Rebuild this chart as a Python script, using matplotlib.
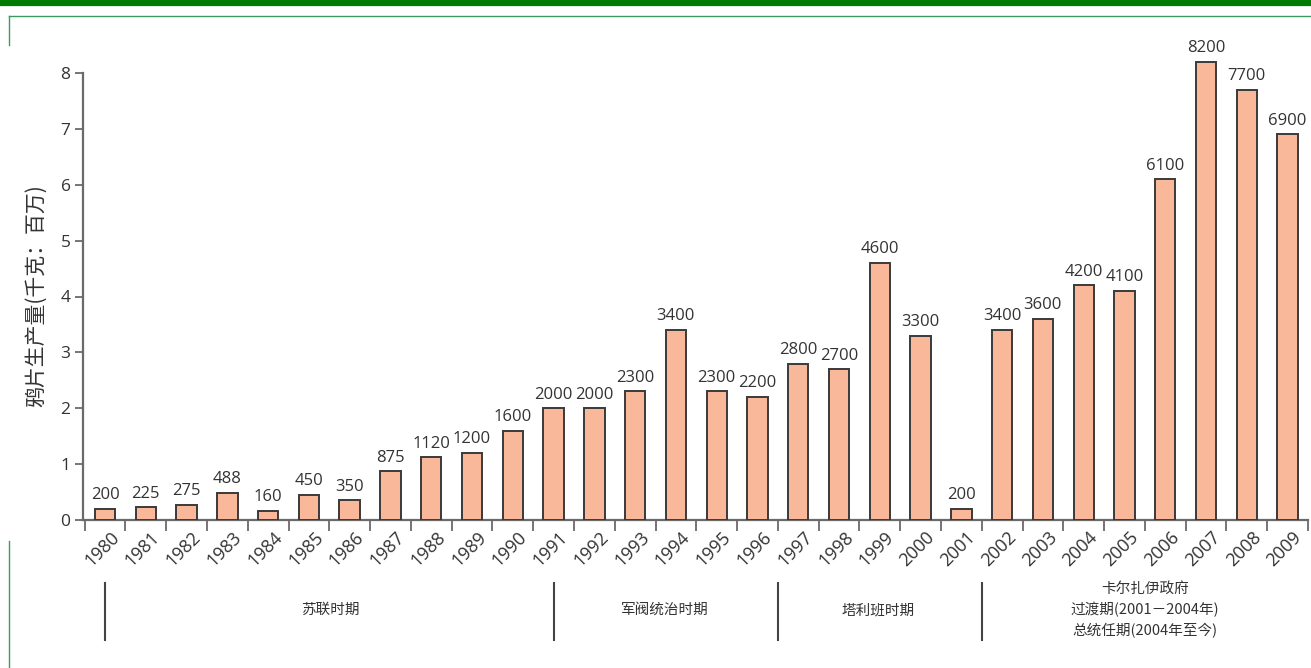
import matplotlib
matplotlib.use("Agg")
import matplotlib.pyplot as plt
import matplotlib.transforms as mtrans
from matplotlib.lines import Line2D

plt.rcParams['font.family'] = ['Open Sans', 'Noto Sans CJK SC', 'DejaVu Sans']

years = [str(y) for y in range(1980, 2010)]
production = [200, 225, 275, 488, 160, 450, 350, 875, 1120, 1200, 1600, 2000,
              2000, 2300, 3400, 2300, 2200, 2800, 2700, 4600, 3300, 200,
              3400, 3600, 4200, 4100, 6100, 8200, 7700, 6900]
bar_labels = [str(v) for v in production]
y_ticks = [0, 1, 2, 3, 4, 5, 6, 7, 8]
y_label = "鸦片生产量(千克：百万)"
periods = ["苏联时期", "军阀统治时期", "塔利班时期",
           "卡尔扎伊政府\n过渡期(2001－2004年)\n总统任期(2004年至今)"]
period_bounds = [0, 11, 16.5, 21.5, 29.5]

W, H = 1311, 668
fig = plt.figure(figsize=(W / 100, H / 100), dpi=100)

ax_left, ax_right = 83, 1308
y0_px, y8_px = 520, 73
ymax = 8.35
ppu = (y0_px - y8_px) / 8
top_px = y0_px - ymax * ppu
ax = fig.add_axes([ax_left / W, (H - y0_px) / H, (ax_right - ax_left) / W, (y0_px - top_px) / H])

values = [v / 1000 for v in production]
x = list(range(len(years)))
ax.bar(x, values, width=0.5, color='#FAB89B', edgecolor='#3a3a3a', linewidth=1.4, zorder=3)
for xi, v, lab in zip(x, values, bar_labels):
    ax.text(xi, v + 0.1, lab, ha='center', va='bottom', fontsize=12, color='#333333')

ax.set_xlim(-0.54, 29.5)
ax.set_ylim(0, ymax)
for s in ['top', 'right']:
    ax.spines[s].set_visible(False)
ax.spines['left'].set_bounds(0, 8)
ax.spines['bottom'].set_bounds(-0.54, 29.5)
for s in ['left', 'bottom']:
    ax.spines[s].set_color('#6a6a6a')
    ax.spines[s].set_linewidth(1.6)

ax.set_yticks(y_ticks)
ax.set_yticklabels([str(t) for t in y_ticks], fontsize=12.5, color='#333333')
ax.tick_params(axis='y', length=6, width=1.3, color='#6a6a6a', pad=3)

ax.set_xticks(x)
ax.set_xticklabels(years, rotation=45, ha='right', rotation_mode='anchor',
                   fontsize=13, color='#333333')
ax.tick_params(axis='x', which='major', length=0, pad=6)
ax.set_xticks([i - 0.5 for i in range(len(years) + 1)], minor=True)
ax.tick_params(axis='x', which='minor', length=8, width=1.3, color='#6a6a6a')
offset = mtrans.ScaledTranslation(5 / 100, 0, fig.dpi_scale_trans)
for lab in ax.get_xticklabels():
    lab.set_transform(lab.get_transform() + offset)

ax.set_ylabel(y_label, fontsize=15, color='#333333', family=['Noto Sans CJK SC', 'DejaVu Sans'])
ax.yaxis.set_label_coords(-0.029, (y0_px - 296) / (y0_px - top_px))

def xpix(v):
    return ax_left + (v + 0.54) / (29.5 + 0.54) * (ax_right - ax_left)

for b in period_bounds[:-1]:
    px = xpix(b)
    fig.add_artist(Line2D([px / W, px / W], [(H - 583) / H, (H - 640) / H],
                          color='#444444', linewidth=1.5))
centers_px = [330, 665, 878, 1145]
for p, cx in zip(periods, centers_px):
    fig.text(cx / W, (H - 610) / H, p, ha='center', va='center', fontsize=10.5,
             color='#333333', linespacing=1.45,
             family=['Noto Sans CJK SC', 'DejaVu Sans'])

# decorative frame
fig.add_artist(Line2D([0, 1], [(H - 2.5) / H, (H - 2.5) / H], color='#007A00', linewidth=4.5))
fig.add_artist(Line2D([9 / W, 1], [(H - 16) / H, (H - 16) / H], color='#3C9A60', linewidth=1.0))
fig.add_artist(Line2D([9 / W, 9 / W], [(H - 16) / H, (H - 45) / H], color='#3C9A60', linewidth=1.0))
fig.add_artist(Line2D([9 / W, 9 / W], [(H - 541) / H, 0], color='#3C9A60', linewidth=1.0))

fig.savefig("out.png", dpi=100)
